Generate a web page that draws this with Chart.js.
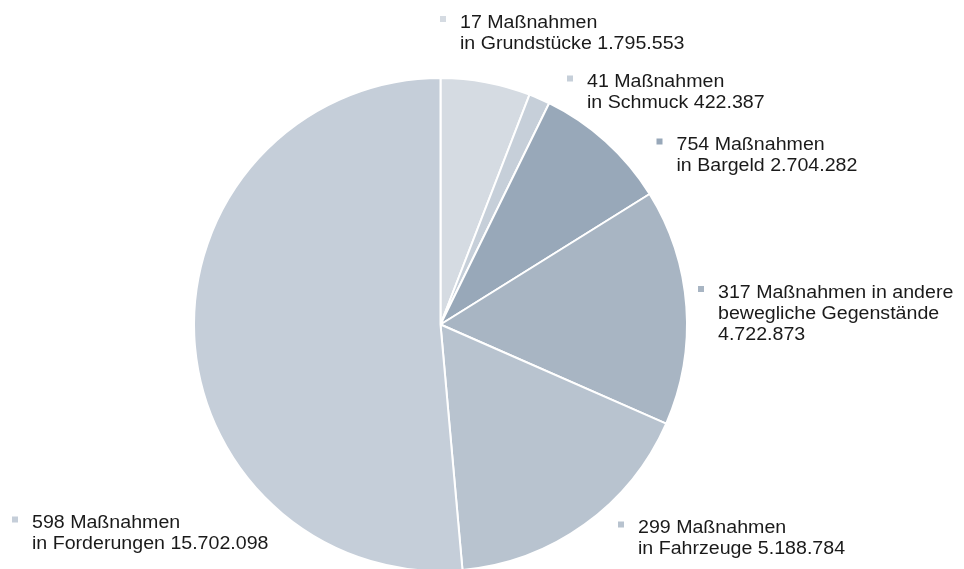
<!DOCTYPE html>
<html>
<head>
<meta charset="utf-8">
<script src="https://cdn.jsdelivr.net/npm/chart.js@4"></script>
<style>
  html, body { margin: 0; padding: 0; background: #fff; overflow: hidden; }
  #wrap { width: 964px; height: 600px; position: relative; }
</style>
</head>
<body>
<div id="wrap"><canvas id="pie" width="964" height="600"></canvas></div>
<script>
// ----------------------
// DATA
// ----------------------
const categories = ['Grundstücke', 'Schmuck', 'Bargeld', 'andere bewegliche Gegenstände', 'Fahrzeuge', 'Forderungen'];
const measures = [17, 41, 754, 317, 299, 598];
const amounts = [1795553, 422387, 2704282, 4722873, 5188784, 15702098];
const sliceColors = ['#d5dbe2', '#c6cfd9', '#98a8b9', '#a8b5c3', '#b8c3cf', '#c5ced9'];

// label lines, one entry per slice
const labelLines = [
  ['17 Maßnahmen', 'in Grundstücke 1.795.553'],
  ['41 Maßnahmen', 'in Schmuck 422.387'],
  ['754 Maßnahmen', 'in Bargeld 2.704.282'],
  ['317 Maßnahmen in andere', 'bewegliche Gegenstände', '4.722.873'],
  ['299 Maßnahmen', 'in Fahrzeuge 5.188.784'],
  ['598 Maßnahmen', 'in Forderungen 15.702.098']
];
// where each label block sits (text left x, first line baseline y)
const labelPos = [
  [460, 27.5], [587, 87], [676.5, 150], [718, 297.5], [638, 533], [32, 528]
];

// ----------------------
// LABEL PLUGIN
// ----------------------
const outsideLabels = {
  id: 'outsideLabels',
  afterDraw(chart) {
    const ctx = chart.ctx;
    const sx = 1.12; // source text is a bit wider than Arial
    labelLines.forEach((lines, i) => {
      const [x, y] = labelPos[i];
      ctx.save();
      ctx.fillStyle = sliceColors[i];
      ctx.fillRect(x - 20, y - 11.5, 6, 6);
      ctx.translate(x, y);
      ctx.scale(sx, 1);
      ctx.font = '17.5px "Liberation Sans", Arial, sans-serif';
      ctx.textBaseline = 'alphabetic';
      ctx.textAlign = 'left';
      ctx.fillStyle = '#1a1a1a';
      lines.forEach((t, k) => ctx.fillText(t, 0, k * 21));
      ctx.restore();
    });
  }
};

// ----------------------
// CHART
// ----------------------
const ctx = document.getElementById('pie').getContext('2d');
new Chart(ctx, {
  type: 'pie',
  data: {
    labels: categories,
    datasets: [{
      data: amounts,
      backgroundColor: sliceColors,
      borderColor: '#ffffff',
      borderWidth: 2
    }]
  },
  options: {
    responsive: false,
    animation: false,
    layout: { padding: { left: 193, right: 276, top: 77, bottom: 28 } },
    plugins: {
      legend: { display: false },
      tooltip: { enabled: false }
    }
  },
  plugins: [outsideLabels]
});
</script>
</body>
</html>
